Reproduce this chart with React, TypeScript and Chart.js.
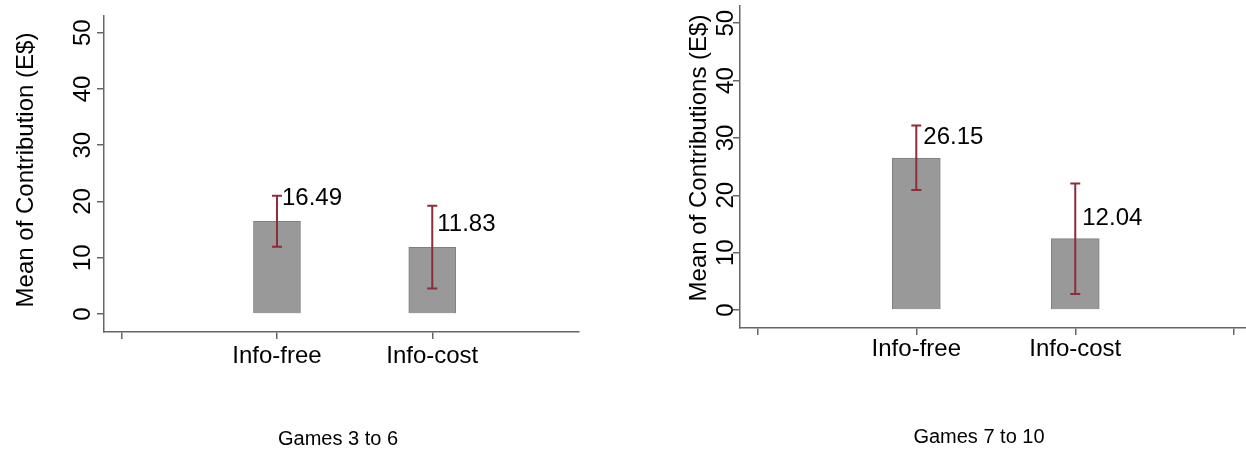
import React, { useEffect, useRef } from "react";
import { Chart, registerables } from "chart.js";

Chart.register(...registerables);

// ---------- data ----------
const categories = ["Info-free", "Info-cost"];
const categoryPositions = [1, 2];
const yTickValues = [0, 10, 20, 30, 40, 50];

const leftMeans = [16.49, 11.83];
const leftLow = [11.93, 4.51];
const leftHigh = [21.02, 19.24];
const leftLabels = ["16.49", "11.83"];
const leftXTicks = [0, 1, 2];

const rightMeans = [26.5, 12.45];
const rightLow = [20.9, 2.79];
const rightHigh = [32.16, 22.06];
const rightLabels = ["26.15", "12.04"];
const rightXTicks = [0, 1, 2, 3];

// ---------- styles ----------
const FONT = '"Liberation Sans", Helvetica, Arial, sans-serif';
const AXIS = "#666666";
const BAR_FILL = "#999999";
const BAR_EDGE = "#808080";
const ERR = "#8e2d3a";

type Panel = {
  canvasLeft: number;
  width: number;
  padding: { left: number; top: number; right: number; bottom: number };
  xMin: number;
  xMax: number;
  yMin: number;
  yMax: number;
  xTicks: number[];
  means: number[];
  low: number[];
  high: number[];
  labels: string[];
  barThickness: number;
  yTitle: string;
  yTitleX: number;
  yTitleY: number;
  yLabelGap: number;
  xLabelDrop: number;
  valueDx: number;
  valueDy: number;
  caption: string;
  captionX: number;
  captionY: number;
};

const panels: Panel[] = [
  {
    canvasLeft: 0,
    width: 620,
    padding: { left: 97, top: 16, right: 41, bottom: 115 },
    xMin: -0.114,
    xMax: 2.945,
    yMin: -3.2,
    yMax: 52.96,
    xTicks: leftXTicks,
    means: leftMeans,
    low: leftLow,
    high: leftHigh,
    labels: leftLabels,
    barThickness: 47,
    yTitle: "Mean of Contribution (E$)",
    yTitleX: 32.5,
    yTitleY: 170,
    yLabelGap: 14.5,
    xLabelDrop: 31,
    valueDx: 5,
    valueDy: 16,
    caption: "Games 3 to 6",
    captionX: 338,
    captionY: 445,
  },
  {
    canvasLeft: 620,
    width: 626,
    padding: { left: 113, top: 6, right: 0, bottom: 119 },
    xMin: -0.109,
    xMax: 3.074,
    yMin: -3.14,
    yMax: 53.0,
    xTicks: rightXTicks,
    means: rightMeans,
    low: rightLow,
    high: rightHigh,
    labels: rightLabels,
    barThickness: 48,
    yTitle: "Mean of Contributions (E$)",
    yTitleX: 86,
    yTitleY: 158,
    yLabelGap: 7,
    xLabelDrop: 28,
    valueDx: 7,
    valueDy: 14,
    caption: "Games 7 to 10",
    captionX: 359,
    captionY: 443,
  },
];

const decorPlugin = {
  id: "panelDecor",
  afterDraw(chart: any, _args: any, opts: any) {
    const p: Panel = opts.panel;
    const { ctx, chartArea } = chart;
    const xs = chart.scales.x;
    const ys = chart.scales.y;
    ctx.save();

    // error bars
    ctx.strokeStyle = ERR;
    ctx.lineWidth = 2;
    categoryPositions.forEach((pos, i) => {
      const px = xs.getPixelForValue(pos);
      const yl = ys.getPixelForValue(p.low[i]);
      const yh = ys.getPixelForValue(p.high[i]);
      ctx.beginPath();
      ctx.moveTo(px, yl);
      ctx.lineTo(px, yh);
      ctx.moveTo(px - 5, yl);
      ctx.lineTo(px + 5, yl);
      ctx.moveTo(px - 5, yh);
      ctx.lineTo(px + 5, yh);
      ctx.stroke();
    });

    // value labels
    ctx.fillStyle = "#000";
    ctx.font = `24px ${FONT}`;
    ctx.textAlign = "left";
    ctx.textBaseline = "alphabetic";
    categoryPositions.forEach((pos, i) => {
      const px = xs.getPixelForValue(pos);
      const top = ys.getPixelForValue(p.means[i]);
      ctx.fillText(p.labels[i], px + p.valueDx, top - p.valueDy);
    });

    // x tick labels
    ctx.textAlign = "center";
    categoryPositions.forEach((pos, i) => {
      const px = xs.getPixelForValue(pos);
      ctx.fillText(categories[i], px, chartArea.bottom + p.xLabelDrop);
    });

    // y tick labels (rotated)
    yTickValues.forEach((v) => {
      const py = ys.getPixelForValue(v);
      ctx.save();
      ctx.translate(chartArea.left - p.yLabelGap, py);
      ctx.rotate(-Math.PI / 2);
      ctx.textAlign = "center";
      ctx.textBaseline = "alphabetic";
      ctx.fillText(String(v), 0, 0);
      ctx.restore();
    });

    // y title
    ctx.save();
    ctx.translate(p.yTitleX, p.yTitleY);
    ctx.rotate(-Math.PI / 2);
    ctx.textAlign = "center";
    ctx.textBaseline = "alphabetic";
    ctx.fillText(p.yTitle, 0, 0);
    ctx.restore();

    // caption
    ctx.font = `20px ${FONT}`;
    ctx.textAlign = "center";
    ctx.fillText(p.caption, p.captionX, p.captionY);

    ctx.restore();
  },
};

function PanelChart({ panel }: { panel: Panel }) {
  const ref = useRef<HTMLCanvasElement | null>(null);
  useEffect(() => {
    if (!ref.current) return;
    const chart = new Chart(ref.current, {
      type: "bar",
      data: {
        datasets: [
          {
            data: panel.means.map((v, i) => ({ x: categoryPositions[i], y: v })),
            backgroundColor: BAR_FILL,
            borderColor: BAR_EDGE,
            borderWidth: 1,
            barThickness: panel.barThickness,
          } as any,
        ],
      },
      options: {
        responsive: false,
        animation: false,
        events: [],
        layout: { padding: panel.padding },
        plugins: {
          legend: { display: false },
          tooltip: { enabled: false },
          panelDecor: { panel },
        } as any,
        scales: {
          x: {
            type: "linear",
            min: panel.xMin,
            max: panel.xMax,
            offset: false,
            afterBuildTicks: (s: any) => {
              s.ticks = panel.xTicks.map((v) => ({ value: v }));
            },
            afterFit: (s: any) => {
              s.height = 7;
            },
            ticks: { display: false },
            grid: {
              drawOnChartArea: false,
              drawTicks: true,
              tickLength: 7,
              color: AXIS,
              lineWidth: 1.5,
              offset: false,
            },
            border: { display: true, color: AXIS, width: 1.5 },
          },
          y: {
            type: "linear",
            min: panel.yMin,
            max: panel.yMax,
            afterBuildTicks: (s: any) => {
              s.ticks = yTickValues.map((v) => ({ value: v }));
            },
            afterFit: (s: any) => {
              s.width = 7;
            },
            ticks: { display: false },
            grid: {
              drawOnChartArea: false,
              drawTicks: true,
              tickLength: 7,
              color: AXIS,
              lineWidth: 1.5,
            },
            border: { display: true, color: AXIS, width: 1.5 },
          },
        } as any,
      },
      plugins: [decorPlugin],
    });
    return () => chart.destroy();
  }, [panel]);

  return (
    <canvas
      ref={ref}
      width={panel.width}
      height={454}
      style={{
        position: "absolute",
        left: panel.canvasLeft,
        top: 0,
        width: panel.width,
        height: 454,
      }}
    />
  );
}

export default function App() {
  return (
    <div
      style={{
        position: "absolute",
        left: 0,
        top: 0,
        width: 1246,
        height: 454,
        background: "#ffffff",
        overflow: "hidden",
      }}
    >
      {panels.map((p, i) => (
        <PanelChart key={i} panel={p} />
      ))}
    </div>
  );
}
